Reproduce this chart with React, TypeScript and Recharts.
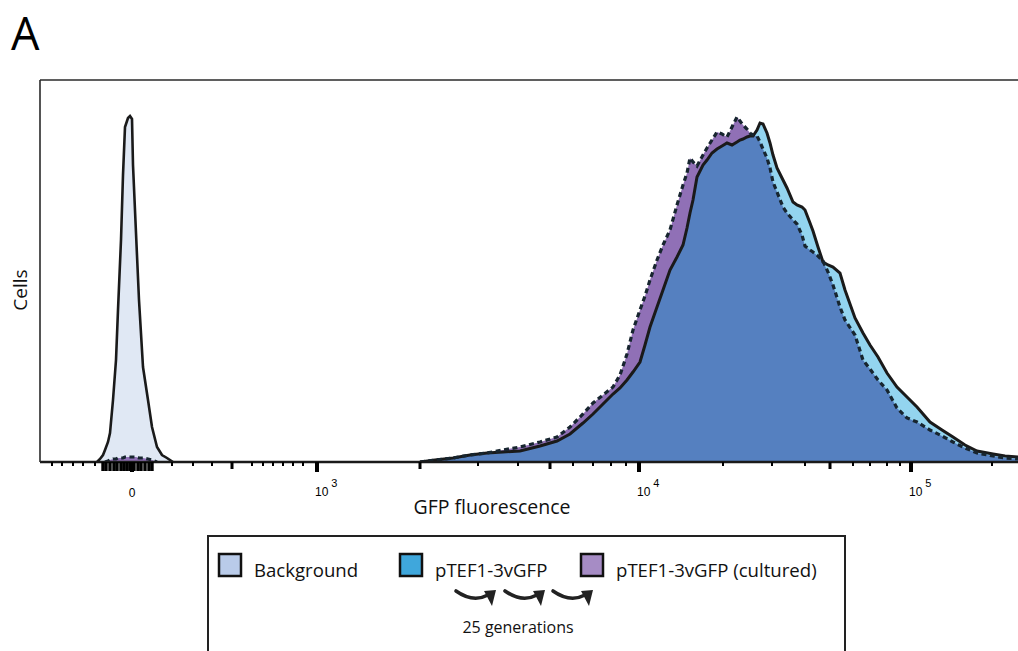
import React from 'react';
import { ComposedChart, Area, Line, XAxis, YAxis, ReferenceLine } from 'recharts';

// x: display channel of the biexponential GFP axis; y: cell counts
const channel = [
  57, 60, 63, 65, 68, 70, 73, 76, 78, 81, 83, 85, 88, 90, 92, 93, 96, 99, 103, 108, 112, 117, 122, 127, 133,
  380, 395, 413, 430, 447, 463, 480, 500, 517, 530,
  543, 553, 563, 573, 580, 587, 593, 600, 605, 610,
  617, 623, 630, 637, 643, 647, 650, 653, 657, 663,
  667, 672, 677, 682, 687, 692, 697, 700, 703, 707,
  710, 713, 717, 720, 723, 727, 730, 733, 737, 743,
  747, 753, 757, 762, 765, 770, 773, 778, 783, 788,
  793, 800, 805, 815, 823, 830, 838, 847, 857, 867,
  877, 890, 902, 913, 925, 937, 953, 965, 978,
];

const N0 = 25;
const NM = 79;
const nulls = (n: number) => Array.from({ length: n }, () => null as number | null);

const background: (number | null)[] = [
  0, 3, 7, 12, 20, 29, 62, 102, 152, 222, 287, 335, 344, 346, 343, 297, 229, 162, 95, 62, 35, 15, 7, 4, 0,
  ...nulls(NM),
];

const pTEF1: (number | null)[] = [
  ...nulls(N0),
  0, 2, 4, 7, 9, 10, 11, 16, 21, 28,
  39, 48, 58, 68, 74, 82, 90, 100, 117, 135,
  155, 172, 192, 205, 217, 234, 249, 262, 285, 297,
  302, 309, 313, 316, 319, 317, 320, 322, 323, 325,
  326, 326, 332, 339, 338, 329, 319, 307, 294, 282,
  274, 260, 257, 255, 252, 239, 231, 215, 200, 197,
  195, 189, 172, 144, 129, 117, 105, 89, 75, 65,
  55, 40, 32, 25, 17, 11, 8, 6, 5,
];

const cultured: (number | null)[] = [
  null, null, null, 0, 1, 2, 3, 3, 4, 4, 4, 5, 5, 5, 5, 5, 5, 4, 4, 3, 2, 0, null, null, null,
  0, 2, 4, 7, 9, 12, 15, 20, 25, 35,
  48, 59, 67, 75, 87, 108, 132, 152, 166, 182,
  202, 217, 232, 257, 277, 289, 304, 300, 296, 307,
  314, 322, 330, 328, 325, 335, 345, 341, 337, 333,
  329, 327, 326, 320, 313, 304, 294, 280, 270, 255,
  249, 242, 238, 227, 216, 212, 210, 206, 201, 190,
  177, 155, 142, 127, 102, 93, 82, 72, 54, 44,
  40, 32, 26, 20, 14, 9, 6, 4, 3,
];

// axis ticks (display channel)
const majorTicks = [92, 277, 599, 871];
const majorBase = ['0', '10', '10', '10'];
const majorExp = ['', '3', '4', '5'];
const midTicks = [192, 380, 510, 790];
const clusterTicks = [63, 66, 70, 74, 77, 81, 84, 87, 90, 94, 98, 101, 105, 109, 112];
const minorTicks = [12, 22, 33, 43, 55, 132, 153, 172, 212, 223, 233, 243, 253, 263, 438, 478, 533, 553, 571, 586, 683, 732, 765, 813, 830, 847, 860, 952];

const X_MAX = 978;
const Y_MAX = 382;

const seriesNames = ['Background', 'pTEF1-3vGFP', 'pTEF1-3vGFP (cultured)'];
const legendColors = ['#b9cbe9', '#3fa7dc', '#a68cc5'];

const data = channel.map((t, i) => {
  const p = pTEF1[i];
  const c = cultured[i];
  return {
    t,
    bg: background[i],
    p,
    c,
    ov: p != null && c != null ? Math.min(p, c) : null,
  };
});

const allTicks = [...majorTicks, ...midTicks, ...clusterTicks, ...minorTicks].sort((a, b) => a - b);

const AxisTick = (props: any) => {
  const { x, y, payload } = props;
  const v = payload.value;
  const mi = majorTicks.indexOf(v);
  let len = 4;
  let w = 2;
  if (mi >= 0) { len = 10; w = 4; }
  else if (midTicks.includes(v)) { len = 7; w = 3; }
  else if (clusterTicks.includes(v)) { len = 9; w = 3.4; }
  return (
    <g>
      <line x1={x} x2={x} y1={y} y2={y + len} stroke="#000" strokeWidth={w} />
      {mi >= 0 && (majorExp[mi] ? (
        <text x={x - 2} y={y + 34} fontSize={12} fontFamily="Liberation Sans, Arial, sans-serif" fill="#000" stroke="none">
          {majorBase[mi]}
          <tspan dx={3} dy={-9} fontSize={11}>{majorExp[mi]}</tspan>
        </text>
      ) : (
        <text x={x} y={y + 35} fontSize={12} textAnchor="middle" fontFamily="Liberation Sans, Arial, sans-serif" fill="#000" stroke="none">
          {majorBase[mi]}
        </text>
      ))}
    </g>
  );
};

const Arrow = ({ x }: { x: number }) => (
  <g>
    <path d={`M ${x} 591 Q ${x + 17} 603 ${x + 32} 595`} fill="none" stroke="#222" strokeWidth={3.6} strokeLinecap="round" />
    <polygon points={`${x + 28},591 ${x + 40},590 ${x + 36},606`} fill="#222" />
  </g>
);

export default function App() {
  const FONT = "'Open Sans', 'Noto Sans', sans-serif";
  return (
    <div style={{ position: 'absolute', left: 0, top: 0, width: 1018, height: 651, overflow: 'hidden', background: '#fff' }}>
      <ComposedChart
        width={1018}
        height={651}
        data={data}
        margin={{ top: 80, right: 0, bottom: 149, left: 0 }}
      >
        <XAxis
          dataKey="t"
          type="number"
          domain={[0, X_MAX]}
          allowDataOverflow
          ticks={allTicks}
          interval={0}
          tick={<AxisTick />}
          tickLine={false}
          tickSize={0}
          tickMargin={0}
          axisLine={{ stroke: '#1a1a1a', strokeWidth: 2.5 }}
          height={40}
          label={{
            content: (props: any) => {
              const vb = props.viewBox;
              return (
                <text x={vb.x + 452} y={vb.y + 52} textAnchor="middle" fontSize={19.5} fontFamily={FONT} fill="#111">
                  GFP fluorescence
                </text>
              );
            },
          }}
        />
        <YAxis
          type="number"
          domain={[0, Y_MAX]}
          allowDataOverflow
          width={40}
          tick={false}
          tickLine={false}
          axisLine={{ stroke: '#2a2a2a', strokeWidth: 1.6 }}
          label={{
            content: (props: any) => {
              const vb = props.viewBox;
              const cx = 27;
              const cy = vb.y + 210;
              return (
                <text x={cx} y={cy} transform={`rotate(-90 ${cx} ${cy})`} textAnchor="middle" fontSize={19} fontFamily={FONT} fill="#111">
                  Cells
                </text>
              );
            },
          }}
        />
        <ReferenceLine y={Y_MAX} stroke="#2a2a2a" strokeWidth={1.6} />

        <Area dataKey="bg" name={seriesNames[0]} type="linear" fill="#e0e8f4" fillOpacity={1} stroke="#1a1a1a" strokeWidth={2.6} isAnimationActive={false} dot={false} activeDot={false} />
        <Area dataKey="c" type="linear" fill="#9070b6" fillOpacity={1} stroke="none" isAnimationActive={false} dot={false} activeDot={false} />
        <Area dataKey="p" type="linear" fill="#93d4ef" fillOpacity={1} stroke="none" isAnimationActive={false} dot={false} activeDot={false} />
        <Area dataKey="ov" type="linear" fill="#5580c0" fillOpacity={1} stroke="none" isAnimationActive={false} dot={false} activeDot={false} />
        <Line dataKey="p" name={seriesNames[1]} type="linear" stroke="#1a1a1a" strokeWidth={3} dot={false} activeDot={false} isAnimationActive={false} />
        <Line dataKey="c" name={seriesNames[2]} type="linear" stroke="#17252f" strokeWidth={3.2} strokeDasharray="5 3.5" dot={false} activeDot={false} isAnimationActive={false} />
      </ComposedChart>

      <svg width={1018} height={651} style={{ position: 'absolute', left: 0, top: 0, pointerEvents: 'none' }}>
        <text x={11} y={50} fontSize={45} fontFamily={FONT} fill="#000">A</text>
        <rect x={208} y={536} width={637} height={130} fill="#fff" stroke="#222" strokeWidth={2} />
        {seriesNames.map((name, i) => {
          const sx = [219, 400, 581][i];
          return (
            <g key={name}>
              <rect x={sx} y={554} width={22} height={22} fill={legendColors[i]} stroke="#111" strokeWidth={2.5} />
              <text x={sx + 35} y={577} fontSize={18.6} fontFamily={FONT} fill="#111">{name}</text>
            </g>
          );
        })}
        <Arrow x={456} />
        <Arrow x={505} />
        <Arrow x={553} />
        <text x={518} y={633} textAnchor="middle" fontSize={16} fontFamily={FONT} fill="#111">25 generations</text>
      </svg>
    </div>
  );
}
